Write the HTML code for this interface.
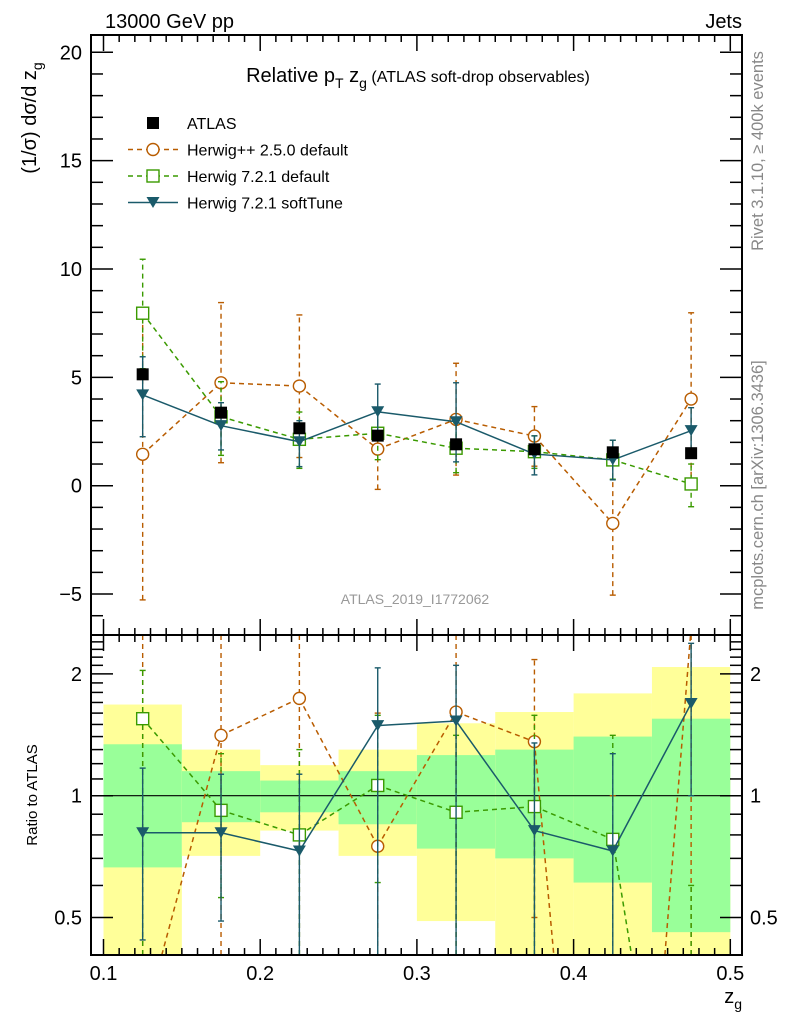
<!DOCTYPE html>
<html><head><meta charset="utf-8">
<style>
html,body{margin:0;padding:0;background:#fff;overflow:hidden;width:786px;height:1024px;}
svg{display:block;font-family:"Liberation Sans",sans-serif;}
</style></head>
<body>
<svg id="chart" width="786" height="1024" viewBox="0 0 786 1024" xmlns="http://www.w3.org/2000/svg">
<g id="bands"></g>
<g id="marks"></g>
<g id="axes"></g>
<text x="105" y="28" font-size="20">13000 GeV pp</text>
<text x="742" y="28" font-size="20" text-anchor="end">Jets</text>
<text x="418" y="82" font-size="20" text-anchor="middle">Relative p<tspan font-size="14" dy="6">T</tspan><tspan dy="-6"> z</tspan><tspan font-size="14" dy="6">g</tspan><tspan dy="-6" font-size="16"> (ATLAS soft-drop observables)</tspan></text>
<text transform="translate(36,118) rotate(-90)" font-size="20" text-anchor="middle">(1/σ) dσ/d z<tspan font-size="14" dy="6">g</tspan></text>
<text transform="translate(37,795) rotate(-90)" font-size="15" text-anchor="middle">Ratio to ATLAS</text>
<text x="742" y="1003" font-size="20" text-anchor="end">z<tspan font-size="14" dy="6">g</tspan></text>
<text transform="translate(763,151) rotate(-90)" font-size="16.5" fill="#888" text-anchor="middle">Rivet 3.1.10, ≥ 400k events</text>
<text transform="translate(763,485) rotate(-90)" font-size="16.5" fill="#888" text-anchor="middle">mcplots.cern.ch [arXiv:1306.3436]</text>
<text x="415" y="604" font-size="14" fill="#999" text-anchor="middle">ATLAS_2019_I1772062</text>
<g id="legend"></g>
</svg>
<script>
const binEdges=[0.1,0.15,0.2,0.25,0.3,0.35,0.4,0.45,0.5];
const xCenters=[0.125,0.175,0.225,0.275,0.325,0.375,0.425,0.475];
const atlasVals=[5.14,3.37,2.65,2.31,1.91,1.68,1.54,1.50];
const hppVals=[1.45,4.75,4.6,1.69,3.06,2.29,-1.74,4.0];
const hppLo=[-5.27,1.06,1.3,-0.17,0.49,0.9,-5.05,0.0];
const hppHi=[8.2,8.45,7.88,3.6,5.65,3.65,1.6,7.98];
const defVals=[7.96,3.18,2.14,2.42,1.73,1.57,1.19,0.08];
const defLo=[5.4,1.4,0.8,1.2,0.6,0.8,0.3,-0.97];
const defHi=[10.45,4.8,3.4,3.6,2.9,2.3,2.1,1.0];
const stVals=[4.19,2.77,2.03,3.41,2.95,1.46,1.19,2.54];
const stLo=[2.26,1.65,0.88,2.1,1.1,0.5,0.27,1.5];
const stHi=[5.95,3.83,3.0,4.69,4.75,2.3,2.1,3.6];
const yTicks=[-5,0,5,10,15,20];
const xTickLabels=["0.1","0.2","0.3","0.4","0.5"];
const yellowLo=[0.3,0.71,0.82,0.71,0.49,0.3,0.3,0.3];
const yellowHi=[1.68,1.30,1.19,1.30,1.51,1.61,1.79,2.08];
const greenLo=[0.665,0.86,0.91,0.85,0.74,0.70,0.61,0.46];
const greenHi=[1.34,1.15,1.09,1.15,1.26,1.30,1.40,1.55];
const rHpp=[0.27,1.41,1.74,0.75,1.61,1.36,0.01,2.6];
const rHppLo=[0.01,0.2,0.3,0.01,0.2,0.5,0.01,0.01];
const rHppHi=[3,3,3,1.6,3,2.17,1.0,5];
const rDef=[1.55,0.92,0.80,1.06,0.91,0.94,0.78,0.05];
const rDefLo=[0.3,0.56,0.3,0.61,0.3,0.3,0.3,0.01];
const rDefHi=[2.04,1.27,1.3,1.58,1.41,1.58,1.41,0.6];
const rSt=[0.81,0.81,0.73,1.49,1.53,0.82,0.73,1.69];
const rStLo=[0.44,0.49,0.3,0.3,0.3,0.3,0.3,1.0];
const rStHi=[1.17,1.13,1.13,2.07,2.1,1.35,1.27,2.38];
const ratioTicks=[0.5,1,2];

const L=91,R=742,T=35,MB=635,RB=955;
const NS='http://www.w3.org/2000/svg';
function X(v){return 103.5+(v-0.1)*1567;}
function Y(v){return 485.7-v*21.67;}
function YR(v){return 795.7-Math.log2(v)*121.8;}
function el(tag,attrs,parent){const e=document.createElementNS(NS,tag);for(const k in attrs)e.setAttribute(k,attrs[k]);parent.appendChild(e);return e;}
const svg=document.getElementById('chart');
const bands=document.getElementById('bands');
const clampY=(y,top,bot)=>Math.max(top,Math.min(bot,y));
for(let i=0;i<8;i++){
 const x0=X(binEdges[i]),x1=X(binEdges[i+1]);
 const yt=clampY(YR(yellowHi[i]),MB,RB),yb=clampY(YR(yellowLo[i]),MB,RB);
 const y=el('rect',{x:x0,y:yt,width:x1-x0,height:yb-yt,fill:'#ffff99'},bands);
 
 
 const gt=clampY(YR(greenHi[i]),MB,RB),gb=clampY(YR(greenLo[i]),MB,RB);
 const g=el('rect',{x:x0,y:gt,width:x1-x0,height:gb-gt,fill:'#99ff99'},bands);
 
 
}
const marks=document.getElementById('marks');
const gm=el('g',{},marks);
const gr=el('g',{},marks);
el('line',{x1:L,x2:R,y1:YR(1),y2:YR(1),stroke:'#000','stroke-width':1.2},gr);
function marker(type,cx,cy,color,g){
 if(type==='circle')return el('circle',{cx:cx,cy:cy,r:6,fill:'#fff',stroke:color,'stroke-width':1.4},g);
 if(type==='square')return el('rect',{x:cx-6,y:cy-6,width:12,height:12,fill:'#fff',stroke:color,'stroke-width':1.4},g);
 if(type==='tri')return el('polygon',{points:`${cx-6.5},${cy-5.5} ${cx+6.5},${cy-5.5} ${cx},${cy+5.5}`,fill:color},g);
 return el('rect',{x:cx-6,y:cy-6,width:12,height:12,fill:'#000'},g);
}
function clipSeg(x1,y1,x2,y2,top,bot){
 let t0=0,t1=1;const dy=y2-y1;
 const p=[-dy,dy],q=[y1-top,bot-y1];
 for(let k=0;k<2;k++){
  if(p[k]===0){if(q[k]<0)return null;}
  else{const r=q[k]/p[k];if(p[k]<0){if(r>t1)return null;if(r>t0)t0=r;}else{if(r<t0)return null;if(r<t1)t1=r;}}
 }
 return [x1+(x2-x1)*t0,y1+dy*t0,x1+(x2-x1)*t1,y1+dy*t1];
}
function series(g,fy,vals,lo,hi,color,dash,type,name,top,bot){
 const sg=el('g',{},g);
 
 
 for(let i=0;i<vals.length;i++){
  const x=X(xCenters[i]);
  const ylo=fy(lo[i]),yhi=fy(hi[i]);
  el('line',{x1:x,x2:x,y1:clampY(ylo,top,bot),y2:clampY(yhi,top,bot),stroke:color,'stroke-width':1.4,'stroke-dasharray':dash},sg);
  if(ylo>=top&&ylo<=bot)el('line',{x1:x-3,x2:x+3,y1:ylo,y2:ylo,stroke:color,'stroke-width':1.4},sg);
  if(yhi>=top&&yhi<=bot)el('line',{x1:x-3,x2:x+3,y1:yhi,y2:yhi,stroke:color,'stroke-width':1.4},sg);
 }
 for(let i=0;i<vals.length-1;i++){
  const s=clipSeg(X(xCenters[i]),fy(vals[i]),X(xCenters[i+1]),fy(vals[i+1]),top,bot);
  if(s)el('line',{x1:s[0],y1:s[1],x2:s[2],y2:s[3],stroke:color,'stroke-width':1.5,'stroke-dasharray':dash},sg);
 }
 for(let i=0;i<vals.length;i++){
  const cy=fy(vals[i]);if(cy<top||cy>bot)continue;
  const m=marker(type,X(xCenters[i]),cy,color,sg);
  
  
 }
}
const OR='#b85c00',GR='#3a9a00',BL='#1a5a6a';
series(gm,Y,hppVals,hppLo,hppHi,OR,'5,4','circle','herwigpp-series',T,MB);
series(gm,Y,defVals,defLo,defHi,GR,'5,4','square','herwig721-default-series',T,MB);
series(gm,Y,stVals,stLo,stHi,BL,'','tri','herwig721-softtune-series',T,MB);
const ag=el('g',{},gm);


for(let i=0;i<8;i++){const m=marker('sq',X(xCenters[i]),Y(atlasVals[i]),'#000',ag);
 
 }
series(gr,YR,rHpp,rHppLo,rHppHi,OR,'5,4','circle','ratio-herwigpp',MB,RB);
series(gr,YR,rDef,rDefLo,rDefHi,GR,'5,4','square','ratio-herwig721-default',MB,RB);
series(gr,YR,rSt,rStLo,rStHi,BL,'','tri','ratio-herwig721-softtune',MB,RB);

const ax=document.getElementById('axes');
const ln=(x1,y1,x2,y2,w)=>el('line',{x1,y1,x2,y2,stroke:'#000','stroke-width':w||1.5},ax);
el('rect',{x:L,y:T,width:R-L,height:RB-T,fill:'none',stroke:'#000','stroke-width':2},ax);
ln(L,MB,R,MB,2);
for(let v=-6;v<=20;v++){const y=Y(v);const big=v%5===0;const l=big?22:12;ln(L,y,L+l,y);ln(R,y,R-l,y);}
yTicks.forEach(v=>{const t=el('text',{x:82,y:Y(v)+7,'font-size':20,'text-anchor':'end'},ax);t.textContent=(v<0?'\u2212'+(-v):v);
 });
for(let k=10;k<=50;k++){const x=X(k/100);const big=k%10===0;const l=big?16:7;ln(x,T,x,T+l);ln(x,MB,x,MB-l);ln(x,MB,x,MB+l);ln(x,RB,x,RB-l);}
xTickLabels.forEach(s=>{const t=el('text',{x:X(parseFloat(s)),y:980,'font-size':20,'text-anchor':'middle'},ax);t.textContent=s;
 });
const minorR=[0.4,0.5,0.6,0.7,0.8,0.9,1,1.1,1.2,1.3,1.4,1.5,1.6,1.7,1.8,1.9,2,2.1,2.2,2.3,2.4];
minorR.forEach(v=>{const y=YR(v);if(y<MB+1||y>RB)return;const big=ratioTicks.includes(v);const l=big?22:12;ln(L,y,L+l,y);ln(R,y,R-l,y);});
ratioTicks.forEach(v=>{const s=String(v);
 const t=el('text',{x:82,y:YR(v)+7,'font-size':20,'text-anchor':'end'},ax);t.textContent=s;
 
 const t2=el('text',{x:750,y:YR(v)+7,'font-size':20,'text-anchor':'start'},ax);t2.textContent=s;
 });

const lg=document.getElementById('legend');
const entries=[['ATLAS','sq','#000',''],['Herwig++ 2.5.0 default','circle',OR,'5,4'],['Herwig 7.2.1 default','square',GR,'5,4'],['Herwig 7.2.1 softTune','tri',BL,'']];
entries.forEach((e,i)=>{const y=123+i*26.5;const g=el('g',{},lg);
 
 
 if(i>0)el('line',{x1:128,x2:178,y1:y,y2:y,stroke:e[2],'stroke-width':1.5,'stroke-dasharray':e[3]},g);
 marker(e[1],153,y,e[2],g);
 const t=el('text',{x:187,y:y+6,'font-size':16},g);t.textContent=e[0];});
</script>
</body></html>
